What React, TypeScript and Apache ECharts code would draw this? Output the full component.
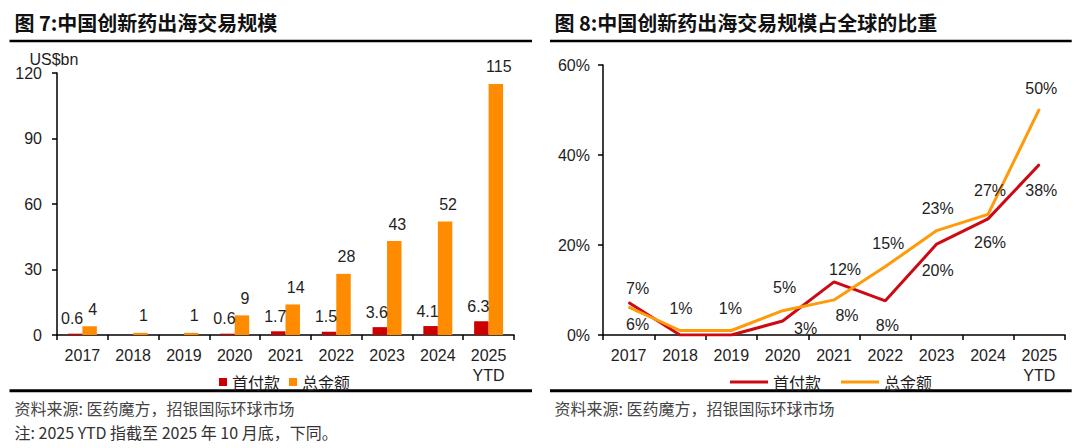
import React, { useEffect, useRef } from "react";
import * as echarts from "echarts";

// ---- data ----
const years = ["2017", "2018", "2019", "2020", "2021", "2022", "2023", "2024", "2025\nYTD"];
const upfrontUsdBn = [0.6, null, null, 0.6, 1.7, 1.5, 3.6, 4.1, 6.3];
const totalUsdBn = [4, 1, 1, 9, 14, 28, 43, 52, 115];
const upfrontSharePct = [7.2, 0, 0, 3.1, 11.8, 7.6, 20.2, 25.8, 37.9];
const totalSharePct = [6.2, 1.0, 1.0, 5.4, 7.8, 15.2, 23.2, 26.8, 50.2];
const seriesNames = ["首付款", "总金额"];

// label placements (styling, not data)
const upfrontLabelOffsets: (number[] | null)[] = [
  [9, -14], null, null, [23, 7], [11, -12], [2, 25], [1, 26], [2, 24], [2, 26],
];
const totalLabelOffsets: (number[] | null)[] = [
  [9, 17], [1, -22], [-1, -22], [2, -23], [13, 16], [3, -23], [1, -22], [2, -24], [2, -21],
];

const SANS = "'Liberation Sans', Arial, 'Noto Sans CJK SC', sans-serif";
const CJK = "'Noto Sans CJK SC', 'Liberation Sans', sans-serif";
const RED_BAR = "#CC0000";
const ORANGE_BAR = "#FF8C00";
const RED_LINE = "#CC0A14";
const ORANGE_LINE = "#FF9A0A";
const TXT = "#1e1e1e";

const axisLineStyle = { color: "#000", width: 1.5 };

function frameGraphics(title: string, withNote: boolean, ruleX1: number, ruleX2: number) {
  const g: any[] = [
    {
      type: "text",
      left: 14.5,
      top: 12,
      style: { text: title, font: `bold 20px ${CJK}`, fill: "#111" },
    },
    {
      type: "line",
      shape: { x1: ruleX1, y1: 41, x2: ruleX2, y2: 41 },
      style: { stroke: "#000", lineWidth: 2.5 },
    },
    {
      type: "line",
      shape: { x1: ruleX1, y1: 390.8, x2: ruleX2, y2: 390.8 },
      style: { stroke: "#000", lineWidth: 3 },
    },
    {
      type: "text",
      left: 14.5,
      top: 400,
      style: { text: "资料来源: 医药魔方，招银国际环球市场", font: `16px ${CJK}`, fill: "#444" },
    },
  ];
  if (withNote) {
    g.push({
      type: "text",
      left: 14.5,
      top: 424,
      style: { text: "注: 2025 YTD 指截至 2025 年 10 月底，下同。", font: `16px ${CJK}`, fill: "#333" },
    });
  }
  return g;
}

const xAxisCommon = {
  type: "category",
  data: years,
  axisLine: { lineStyle: axisLineStyle },
  axisTick: { show: true, length: 5, lineStyle: axisLineStyle },
  axisLabel: { fontSize: 16, color: TXT, fontFamily: SANS, margin: 10, lineHeight: 20, interval: 0 },
};

const leftOption: any = {
  animation: false,
  backgroundColor: "#fff",
  grid: { left: 57, right: 26, top: 73, bottom: 113 },
  legend: {
    data: seriesNames,
    left: 214,
    top: 369,
    icon: "rect",
    itemWidth: 8,
    itemHeight: 8,
    itemGap: 9,
    textStyle: { fontSize: 16, color: TXT, fontFamily: CJK },
  },
  xAxis: xAxisCommon,
  yAxis: {
    type: "value",
    min: 0,
    max: 120,
    interval: 30,
    axisLine: { show: true, lineStyle: axisLineStyle },
    axisTick: { show: true, length: 5, lineStyle: axisLineStyle },
    axisLabel: { fontSize: 16, color: TXT, fontFamily: SANS, margin: 15 },
    splitLine: { show: false },
  },
  graphic: [
    ...frameGraphics("图 7:中国创新药出海交易规模", true, 9.5, 532),
    {
      type: "text",
      left: 29.4,
      top: 51,
      style: { text: "US$bn", font: `16px ${SANS}`, fill: TXT },
    },
  ],
  series: [
    {
      name: seriesNames[0],
      type: "bar",
      data: upfrontUsdBn,
      barGap: "0%",
      barCategoryGap: "43%",
      itemStyle: { color: RED_BAR },
      label: {
        show: true,
        position: "top",
        distance: 7,
        offset: [-3, 0],
        fontSize: 16,
        color: TXT,
        fontFamily: SANS,
      },
    },
    {
      name: seriesNames[1],
      type: "bar",
      data: totalUsdBn,
      barGap: "0%",
      barCategoryGap: "43%",
      itemStyle: { color: ORANGE_BAR },
      label: {
        show: true,
        position: "top",
        distance: 9,
        offset: [3, 0],
        fontSize: 16,
        color: TXT,
        fontFamily: SANS,
      },
    },
  ],
};

function lineData(values: number[], offsets: (number[] | null)[]) {
  return values.map((v, i) => ({
    value: v,
    label: offsets[i] ? { show: true, offset: offsets[i] } : { show: false },
  }));
}

const lineLabel = {
  show: true,
  position: "inside",
  fontSize: 16,
  color: TXT,
  fontFamily: SANS,
  formatter: (p: any) => Math.round(p.value) + "%",
};

const rightOption: any = {
  animation: false,
  backgroundColor: "#fff",
  grid: { left: 63, right: 15, top: 65, bottom: 113 },
  legend: {
    data: seriesNames,
    left: 185,
    top: 369,
    icon: "rect",
    itemWidth: 38,
    itemHeight: 3,
    itemGap: 20,
    textStyle: { fontSize: 16, color: TXT, fontFamily: CJK },
  },
  xAxis: xAxisCommon,
  yAxis: {
    type: "value",
    min: 0,
    max: 60,
    interval: 20,
    axisLine: { show: true, lineStyle: axisLineStyle },
    axisTick: { show: true, length: 5, lineStyle: axisLineStyle },
    axisLabel: { fontSize: 16, color: TXT, fontFamily: SANS, margin: 13, formatter: "{value}%" },
    splitLine: { show: false },
  },
  graphic: frameGraphics("图 8:中国创新药出海交易规模占全球的比重", false, 10, 531.7),
  series: [
    {
      name: seriesNames[0],
      type: "line",
      data: lineData(upfrontSharePct, upfrontLabelOffsets),
      symbol: "circle",
      symbolSize: 1,
      showSymbol: true,
      lineStyle: { color: RED_LINE, width: 3 },
      itemStyle: { color: RED_LINE },
      label: lineLabel,
    },
    {
      name: seriesNames[1],
      type: "line",
      data: lineData(totalSharePct, totalLabelOffsets),
      symbol: "circle",
      symbolSize: 1,
      showSymbol: true,
      lineStyle: { color: ORANGE_LINE, width: 3 },
      itemStyle: { color: ORANGE_LINE },
      label: lineLabel,
    },
  ],
};

function ChartBox({ option, left }: { option: any; left: number }) {
  const ref = useRef<HTMLDivElement>(null);
  useEffect(() => {
    const chart = echarts.init(ref.current!, null, { renderer: "svg" });
    chart.setOption(option);
    return () => chart.dispose();
  }, [option]);
  return (
    <div
      ref={ref}
      style={{ position: "absolute", left, top: 0, width: 540, height: 448 }}
    />
  );
}

export default function App() {
  useEffect(() => {
    document.body.style.margin = "0";
  }, []);
  return (
    <div style={{ position: "relative", width: 1080, height: 448, background: "#fff", overflow: "hidden" }}>
      <ChartBox option={leftOption} left={0} />
      <ChartBox option={rightOption} left={540} />
    </div>
  );
}
